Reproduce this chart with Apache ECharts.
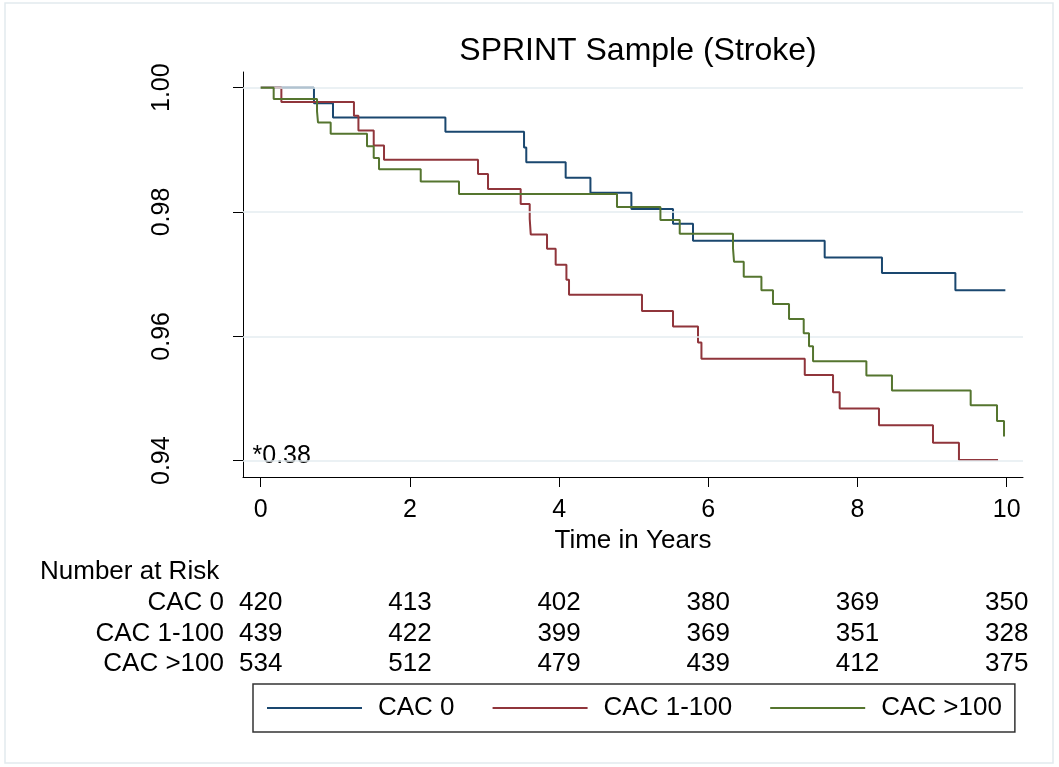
<!DOCTYPE html>
<html><head><meta charset="utf-8">
<script src="https://cdn.jsdelivr.net/npm/echarts@6/dist/echarts.min.js"></script>
<style>html,body{margin:0;padding:0;background:#fff}#c{width:1059px;height:767px}</style>
</head><body><div id="c"></div>
<script>
// ---------- data ----------
const titleText = 'SPRINT Sample (Stroke)';
const seriesNames = ['CAC 0', 'CAC 1-100', 'CAC >100'];
const seriesColors = ['#1a476f', '#90353b', '#55752f'];

const cac0Time = [0, 0.714, 0.969, 2.476, 3.53, 3.56, 4.088, 4.42, 4.969, 5.527, 5.795, 7.56, 8.328, 9.312, 9.982];
const cac0Surv = [1.0, 0.9975, 0.9952, 0.9929, 0.9904, 0.9880, 0.9855, 0.9831, 0.9805, 0.9781, 0.9754, 0.9727, 0.9702, 0.9674, 0.9674];

const cac1to100Time = [0, 0.277, 1.25, 1.31, 1.515, 1.653, 2.913, 3.047, 3.485, 3.606, 3.62, 3.838, 3.954, 4.098, 4.133, 5.111, 5.527, 5.862, 5.908, 7.293, 7.672, 7.761, 8.288, 9.012, 9.36, 9.884];
const cac1to100Surv = [1.0, 0.9977, 0.9955, 0.9931, 0.9907, 0.9884, 0.9861, 0.9837, 0.9813, 0.9789, 0.9764, 0.9741, 0.9715, 0.9691, 0.9667, 0.9641, 0.9616, 0.9590, 0.9564, 0.9538, 0.9510, 0.9484, 0.9457, 0.9429, 0.9401, 0.9401];

const cacGt100Time = [0, 0.174, 0.755, 0.768, 0.938, 1.425, 1.515, 1.586, 2.145, 2.658, 4.776, 5.358, 5.617, 6.331, 6.345, 6.475, 6.712, 6.867, 7.082, 7.279, 7.35, 7.404, 8.119, 8.462, 9.517, 9.87, 9.964];
const cacGt100Surv = [1.0, 0.9982, 0.9962, 0.9944, 0.9926, 0.9906, 0.9887, 0.9869, 0.9849, 0.9829, 0.9808, 0.9787, 0.9765, 0.9742, 0.9720, 0.9696, 0.9674, 0.9652, 0.9628, 0.9605, 0.9584, 0.9560, 0.9537, 0.9513, 0.9489, 0.9464, 0.9439];

const xTicks = [0, 2, 4, 6, 8, 10];
const yTicks = [0.94, 0.96, 0.98, 1.00];
const xAxisName = 'Time in Years';

const riskHeader = 'Number at Risk';
const riskTimes = [0, 2, 4, 6, 8, 10];
const riskCAC0 = [420, 413, 402, 380, 369, 350];
const riskCAC1to100 = [439, 422, 399, 369, 351, 328];
const riskCACgt100 = [534, 512, 479, 439, 412, 375];
const annotationText = '*0.38';

// ---------- chart ----------
const FONT = "'Liberation Sans', Arial, Helvetica, sans-serif";
const chart = echarts.init(document.getElementById('c'), null, {renderer: 'canvas'});

function pairs(t, s) { return t.map((v, i) => [v, s[i]]); }
const curveData = [pairs(cac0Time, cac0Surv), pairs(cac1to100Time, cac1to100Surv), pairs(cacGt100Time, cacGt100Surv)];

const series = [{
  type: 'line', name: '__grid', data: [], silent: true, z: 1,
  markLine: {
    silent: true, symbol: ['none', 'none'], label: {show: false},
    lineStyle: {color: '#e5edf0', width: 1.5, type: 'solid'},
    emphasis: {disabled: true},
    data: yTicks.map(v => ({yAxis: v}))
  }
}];
seriesNames.forEach((n, i) => {
  series.push({
    type: 'line', name: n, step: 'end', data: curveData[i],
    showSymbol: false, symbol: 'none', z: 3 + i,
    lineStyle: {color: seriesColors[i], width: 2},
    itemStyle: {color: seriesColors[i]},
    emphasis: {disabled: true}
  });
});

const option = {
  backgroundColor: '#fff',
  animation: false,
  title: {
    text: titleText, left: 633, top: 30, textAlign: 'center',
    textStyle: {fontFamily: FONT, fontSize: 32, fontWeight: 'normal', color: '#000'}
  },
  grid: {left: 243, top: 72, width: 780, height: 405, containLabel: false},
  xAxis: {
    type: 'value', min: -0.2373, max: 10.2185,
    name: xAxisName, nameLocation: 'middle', nameGap: 38,
    nameTextStyle: {fontFamily: FONT, fontSize: 26, color: '#000'},
    axisLine: {show: true, onZero: false, lineStyle: {color: '#000', width: 1}},
    axisTick: {show: true, length: 10, lineStyle: {color: '#000', width: 1}, customValues: xTicks},
    axisLabel: {show: true, margin: 21, fontFamily: FONT, fontSize: 25, color: '#000', customValues: xTicks, formatter: v => String(v)},
    splitLine: {show: false}
  },
  yAxis: {
    type: 'value', min: 0.937378, max: 1.002525,
    axisLine: {show: true, onZero: false, lineStyle: {color: '#000', width: 1}},
    axisTick: {show: true, length: 10, lineStyle: {color: '#000', width: 1}, customValues: yTicks},
    axisLabel: {show: true, rotate: 90, margin: 68, fontFamily: FONT, fontSize: 25, color: '#000', customValues: yTicks, formatter: v => v.toFixed(2)},
    splitLine: {show: false}
  },
  legend: {
    data: seriesNames,
    left: 253, top: 684, orient: 'horizontal',
    padding: [11, 13, 11, 13],
    borderColor: '#333', borderWidth: 1.5, backgroundColor: '#fff',
    itemWidth: 95, itemHeight: 14, itemGap: 37,
    itemStyle: {opacity: 0},
    selectedMode: false,
    textStyle: {fontFamily: FONT, fontSize: 26, color: '#000', padding: [0, 0, 0, 11]}
  },
  series: series
};
chart.setOption(option);

// number-at-risk table and annotation, positioned through the x scale
const rows = [
  {label: seriesNames[0], vals: riskCAC0, y: 603},
  {label: seriesNames[1], vals: riskCAC1to100, y: 634},
  {label: seriesNames[2], vals: riskCACgt100, y: 664}
];
const textStyleBase = {fontFamily: FONT, fontSize: 26, fill: '#000'};
const elems = [];
elems.push({type: 'rect', silent: true, z: -10, shape: {x: 5, y: 3, width: 1048, height: 760},
  style: {fill: 'none', stroke: '#e2eaee', lineWidth: 1.5}});
elems.push({type: 'text', silent: true, x: 40, y: 572,
  style: Object.assign({text: riskHeader, align: 'left', verticalAlign: 'middle'}, textStyleBase)});
rows.forEach(r => {
  elems.push({type: 'text', silent: true, x: 224, y: r.y,
    style: Object.assign({text: r.label, align: 'right', verticalAlign: 'middle'}, textStyleBase)});
  r.vals.forEach((v, i) => {
    const px = chart.convertToPixel({xAxisIndex: 0}, riskTimes[i]);
    elems.push({type: 'text', silent: true, x: px, y: r.y,
      style: Object.assign({text: String(v), align: 'center', verticalAlign: 'middle'}, textStyleBase)});
  });
});
const annX = chart.convertToPixel({xAxisIndex: 0}, -0.11);
const annY = chart.convertToPixel({yAxisIndex: 0}, 0.94);
elems.push({type: 'text', silent: true, x: annX, y: annY - 5,
  style: {text: annotationText, align: 'left', verticalAlign: 'middle', fontFamily: FONT, fontSize: 25, fill: '#000'}});
chart.setOption({graphic: {elements: elems}});
</script>
</body></html>
